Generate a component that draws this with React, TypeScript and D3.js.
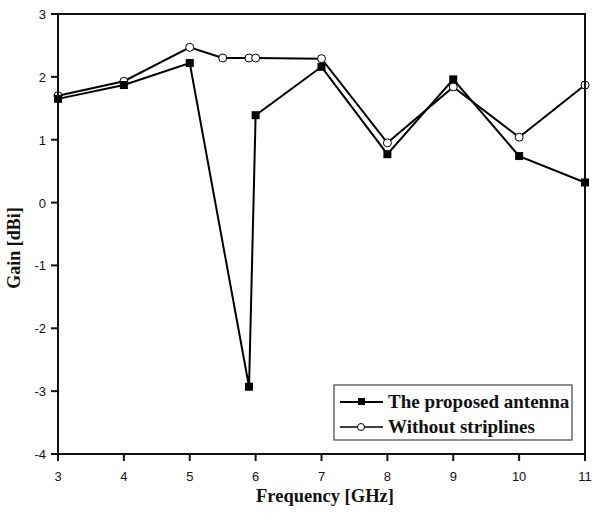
import * as React from "react";
import * as d3 from "d3";

// Frequency (GHz) and gain (dBi)
const proposedFreq = [3, 4, 5, 5.9, 6, 7, 8, 9, 10, 11];
const proposedGain = [1.65, 1.87, 2.22, -2.93, 1.39, 2.16, 0.77, 1.96, 0.74, 0.32];

const noStripFreq = [3, 4, 5, 5.5, 5.9, 6, 7, 8, 9, 10, 11];
const noStripGain = [1.7, 1.93, 2.47, 2.3, 2.3, 2.3, 2.29, 0.95, 1.84, 1.04, 1.87];

const xTicks = [3, 4, 5, 6, 7, 8, 9, 10, 11];
const yTicks = [3, 2, 1, 0, -1, -2, -3, -4];

const W = 598;
const H = 513;
const margin = { left: 58, right: 13, top: 14, bottom: 59 };

export default function App() {
  const x = d3.scaleLinear().domain([3, 11]).range([margin.left, W - margin.right]);
  const y = d3.scaleLinear().domain([-4, 3]).range([H - margin.bottom, margin.top]);

  const line = d3
    .line<[number, number]>()
    .x((d) => x(d[0]))
    .y((d) => y(d[1]));

  const proposed = proposedFreq.map((f, i) => [f, proposedGain[i]] as [number, number]);
  const noStrip = noStripFreq.map((f, i) => [f, noStripGain[i]] as [number, number]);

  const bottom = y(-4);
  const tickFont = "Arial, 'Liberation Sans', sans-serif";
  const labelFont = "'Liberation Serif', 'Times New Roman', serif";

  return (
    <svg
      width={W}
      height={H}
      style={{ position: "absolute", left: 0, top: 0, background: "#fff" }}
    >
      {/* series */}
      <path d={line(noStrip) || ""} fill="none" stroke="#000" strokeWidth={2} />
      <path d={line(proposed) || ""} fill="none" stroke="#000" strokeWidth={2} />
      {noStrip.map((d, i) => (
        <circle key={"o" + i} cx={x(d[0])} cy={y(d[1])} r={4} fill="#fff" stroke="#000" strokeWidth={1} />
      ))}
      {proposed.map((d, i) => (
        <rect key={"s" + i} x={x(d[0]) - 4} y={y(d[1]) - 4} width={8} height={8} fill="#000" />
      ))}

      {/* frame */}
      <rect
        x={margin.left}
        y={margin.top}
        width={W - margin.left - margin.right}
        height={H - margin.top - margin.bottom}
        fill="none"
        stroke="#111"
        strokeWidth={2}
      />

      {/* x axis */}
      {xTicks.map((t) => (
        <g key={"x" + t}>
          <line x1={x(t)} x2={x(t)} y1={bottom} y2={bottom + 7} stroke="#111" strokeWidth={2} />
          <text x={x(t)} y={bottom + 27} textAnchor="middle" fontFamily={tickFont} fontSize={13} fill="#111">
            {t}
          </text>
        </g>
      ))}

      {/* y axis */}
      {yTicks.map((t) => (
        <g key={"y" + t}>
          <line x1={margin.left - 7} x2={margin.left} y1={y(t)} y2={y(t)} stroke="#111" strokeWidth={2} />
          <text x={margin.left - 12} y={y(t) + 5} textAnchor="end" fontFamily={tickFont} fontSize={13} fill="#111">
            {t}
          </text>
        </g>
      ))}

      <text
        x={325}
        y={502}
        textAnchor="middle"
        fontFamily={labelFont}
        fontWeight="bold"
        fontSize={18.5}
        fill="#111"
      >
        Frequency [GHz]
      </text>
      <text
        transform={`translate(20, 248) rotate(-90)`}
        textAnchor="middle"
        fontFamily={labelFont}
        fontWeight="bold"
        fontSize={18}
        fill="#111"
      >
        Gain [dBi]
      </text>

      {/* legend */}
      <g>
        <rect x={334} y={385} width={238} height={55} fill="#fff" stroke="#444" strokeWidth={1.2} />
        <line x1={340} x2={383} y1={402} y2={402} stroke="#000" strokeWidth={2} />
        <rect x={358} y={398} width={7} height={7} fill="#000" />
        <text x={388} y={408} fontFamily={labelFont} fontWeight="bold" fontSize={19} fill="#111">
          The proposed antenna
        </text>
        <line x1={340} x2={383} y1={427} y2={427} stroke="#000" strokeWidth={1.5} />
        <circle cx={361} cy={427} r={3.5} fill="#fff" stroke="#000" strokeWidth={1} />
        <text x={388} y={433} fontFamily={labelFont} fontWeight="bold" fontSize={19} fill="#111">
          Without striplines
        </text>
      </g>
    </svg>
  );
}
